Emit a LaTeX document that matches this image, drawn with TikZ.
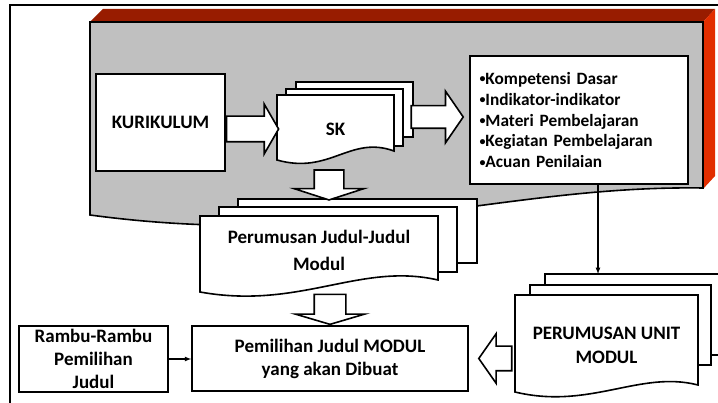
\documentclass[tikz,border=0pt]{standalone}
\usepackage{fontspec}
\setmainfont{Carlito}
\usepackage{tikz}
\usetikzlibrary{shapes.arrows}

\definecolor{topred}{RGB}{152,28,0}
\definecolor{sidered}{RGB}{226,46,0}
\definecolor{panel}{RGB}{192,192,192}

\newcommand{\itm}{\raisebox{1.6pt}{\fontsize{12}{12}\selectfont\textbullet}}

\tikzset{
  box/.style={draw, fill=white, line width=1.6pt, align=center, inner sep=2pt},
  page/.style={draw, fill=white, line width=1.6pt},
  doctext/.style={inner sep=0pt, align=center},
  big/.style={font=\bfseries\fontsize{19}{23}\selectfont},
  blockarrow/.style={single arrow, draw, fill=white, line width=1.6pt, inner sep=0pt,
    single arrow head indent=0pt},
  link/.style={->, >=latex, line width=1.2pt}
}

\begin{document}
\begin{tikzpicture}[x=1pt,y=-1pt,font=\bfseries\fontsize{17.3}{20.8}\selectfont]
\useasboundingbox (0,0) rectangle (718,403);

% outer frame
\draw[line width=2pt] (10,403) -- (10,5) -- (718,5);

% grey box, red top and side
\fill[topred] (90,22) -- (103,9) -- (715,9) -- (703,22) -- cycle;
\fill[sidered] (703,22) -- (715,9) -- (715,176) -- (703,189) -- cycle;
\filldraw[fill=panel, line width=1.6pt] (90,22) -- (703,22) -- (703,188)
  .. controls (500,185) and (350,250) .. (90,215) -- cycle;

\node[box, big, minimum width=129, minimum height=97] (kur) at (160.5,122.5) {KURIKULUM};
\node[box, minimum width=218, minimum height=128, text width=199, align=left] (list) at (579,120)
  {\itm Kompetensi Dasar\\
   \itm Indikator-indikator\\
   \itm Materi Pembelajaran\\
   \itm Kegiatan Pembelajaran\\
   \itm Acuan Penilaian};

% SK stack
\filldraw[page] (296,82) rectangle (413,137);
\filldraw[page] (286,89) rectangle (403,146);
\filldraw[page] (277,95) -- (394,95) -- (394,151) .. controls (350,135) and (330,175) .. (277,160) -- cycle;
\node[doctext, big, minimum width=117, minimum height=64] (sk) at (335.5,129) {SK};

\node[blockarrow, text height=24pt, single arrow head extend=12pt, single arrow tip angle=120,
  minimum height=52, anchor=tail] (a1) at (kur.east |- sk.west) {};
\node[blockarrow, text height=21pt, single arrow head extend=14.5pt, single arrow tip angle=111,
  minimum height=52, anchor=tip] (a2) at ([xshift=-5pt,yshift=3pt]list.west) {};

% Judul stack
\filldraw[page] (238,199) rectangle (477,263);
\filldraw[page] (219,207) rectangle (457,272);
\filldraw[page] (200,216) -- (438,216) -- (438,280) .. controls (360,262) and (300,310) .. (200,292) -- cycle;
\node[doctext, big, minimum width=238, minimum height=64] (jdl) at (319,250) {Perumusan Judul-Judul\\[4pt]Modul};

\node[blockarrow, text width=28pt, text height=0pt, single arrow head extend=20pt, single arrow tip angle=144,
  minimum height=30, shape border rotate=270, anchor=tip] (a3) at ([xshift=10pt,yshift=17pt]jdl.north) {};

% bottom row
\node[box, big, minimum width=276, minimum height=65] (pem) at (330,358.5) {Pemilihan Judul MODUL\\yang akan Dibuat};
\node[box, big, minimum width=149, minimum height=66] (ram) at (93.5,359) {Rambu-Rambu\\Pemilihan\\Judul};

\node[blockarrow, text width=30pt, text height=0pt, single arrow head extend=19pt, single arrow tip angle=147,
  minimum height=30, shape border rotate=270, anchor=tip] (a4) at (pem.north) {};

% unit stack
\filldraw[page] (545,274) rectangle (730,355);
\filldraw[page] (530,285) rectangle (711,365);
\filldraw[page] (515,295) -- (698,295) -- (698,385) .. controls (640,370) and (590,410) .. (515,392) -- cycle;
\node[doctext, big, minimum width=183, minimum height=100] (pun) at (606.5,345) {PERUMUSAN UNIT\\[1pt]MODUL};
\coordinate (unb) at (598,274);

\node[blockarrow, text height=23pt, single arrow head extend=12.5pt, single arrow tip angle=110,
  minimum height=33, shape border rotate=180, anchor=tip] (a5) at ([xshift=9pt]pem.east) {};

\draw[link] ([xshift=19pt]list.south) -- (unb);
\draw[link] (ram.east) -- (ram.east -| pem.west);
\end{tikzpicture}
\end{document}
